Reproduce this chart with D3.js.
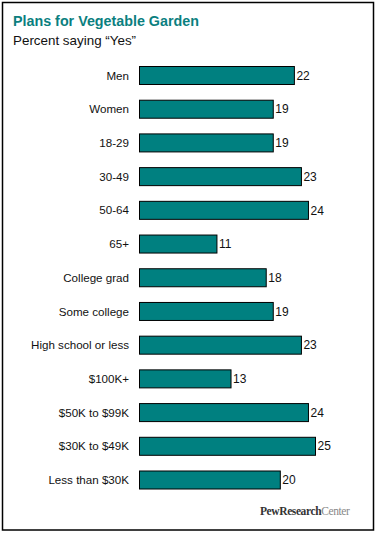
<!DOCTYPE html>
<html><head><meta charset="utf-8">
<script src="https://cdn.jsdelivr.net/npm/d3@7"></script>
<style>
html,body{margin:0;padding:0;background:#fff;}
svg{display:block;}
</style>
</head><body>
<script>
const categories = ["Men","Women","18-29","30-49","50-64","65+","College grad","Some college","High school or less","$100K+","$50K to $99K","$30K to $49K","Less than $30K"];
const values = [22,19,19,23,24,11,18,19,23,13,24,25,20];
const title = "Plans for Vegetable Garden";
const subtitle = "Percent saying \u201cYes\u201d";

const W = 378, H = 534;
const svg = d3.select("body").append("svg").attr("width", W).attr("height", H);
svg.append("rect").attr("width", W).attr("height", H).attr("fill", "#fff");
svg.append("rect").attr("x", 2.5).attr("y", 2.5).attr("width", 371).attr("height", 527.5)
  .attr("fill", "none").attr("stroke", "#000").attr("stroke-width", 1.5);

svg.append("text").attr("x", 13).attr("y", 26).text(title)
  .attr("font-family", "Liberation Sans, Arial, sans-serif").attr("font-weight", "bold")
  .attr("font-size", 14.3).attr("fill", "#0b7f7f");
svg.append("text").attr("x", 13).attr("y", 45).text(subtitle)
  .attr("font-family", "Liberation Sans, Arial, sans-serif")
  .attr("font-size", 13.4).attr("fill", "#111");

const x = d3.scaleLinear().domain([0, 25]).range([139.5, 315.5]);
const y = d3.scalePoint().domain(categories).range([75.5, 480]);
const bh = 18;

const g = svg.append("g");
g.selectAll("rect.bar").data(categories).join("rect").attr("class", "bar")
  .attr("x", x(0)).attr("y", d => y(d) - bh / 2)
  .attr("width", (d, i) => x(values[i]) - x(0)).attr("height", bh)
  .attr("fill", "#008080").attr("stroke", "#000").attr("stroke-width", 1);

g.selectAll("text.cat").data(categories).join("text").attr("class", "cat")
  .attr("x", 129).attr("y", d => y(d)).attr("dy", "0.35em")
  .attr("text-anchor", "end").text(d => d)
  .attr("font-family", "Liberation Sans, Arial, sans-serif").attr("font-size", 11.6).attr("fill", "#111");

g.selectAll("text.val").data(categories).join("text").attr("class", "val")
  .attr("x", (d, i) => x(values[i]) + 2).attr("y", d => y(d)).attr("dy", "0.35em")
  .text((d, i) => values[i])
  .attr("font-family", "Liberation Sans, Arial, sans-serif").attr("font-size", 12).attr("fill", "#111");

const logo = svg.append("text").attr("x", 260).attr("y", 515)
  .attr("font-family", "Liberation Serif, Times New Roman, serif").attr("font-size", 11.5)
  .attr("letter-spacing", -0.4);
logo.append("tspan").text("PewResearch").attr("font-weight", "bold").attr("fill", "#333");
logo.append("tspan").text("Center").attr("fill", "#888");
</script>
</body></html>
